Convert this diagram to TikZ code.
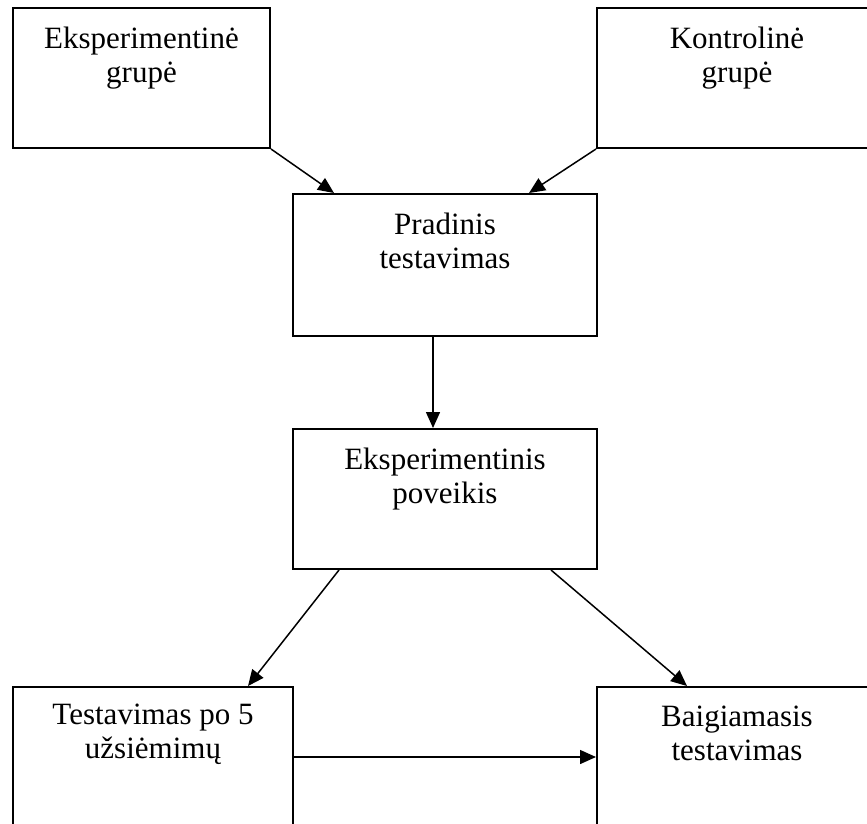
\documentclass[tikz,border=0pt]{standalone}
\usepackage{fontspec}
\setmainfont{Liberation Serif}
\usetikzlibrary{arrows.meta}
\tikzset{
  box/.style={draw, line width=2pt, inner sep=0pt},
  lbl/.style={anchor=north, inner sep=0pt, align=center, font=\fontsize{31}{34}\selectfont},
  arr/.style={line width=1.5pt, -{Triangle[length=16pt,width=14pt]}}
}
\begin{document}
\begin{tikzpicture}[x=1pt, y=-1pt]
\clip (0,0) rectangle (867,824);
\fill[white] (0,0) rectangle (867,824);
\node[box, minimum width=257pt, minimum height=140pt,
  label={[lbl, yshift=-20pt]north:Eksperimentinė\\grupė}] (b1) at (141.5,78) {};
\node[box, minimum width=280pt, minimum height=140pt,
  label={[lbl, yshift=-20pt]north:Kontrolinė\\grupė}] (b2) at (737,78) {};
\node[box, minimum width=304pt, minimum height=142pt,
  label={[lbl, yshift=-20pt]north:Pradinis\\testavimas}] (b3) at (445,265) {};
\node[box, minimum width=304pt, minimum height=140pt,
  label={[lbl, yshift=-20pt]north:Eksperimentinis\\poveikis}] (b4) at (445,499) {};
\node[box, minimum width=280pt, minimum height=140pt,
  label={[lbl, yshift=-18pt]north:Testavimas po 5\\užsiėmimų}] (b5) at (153,757) {};
\node[box, minimum width=280pt, minimum height=140pt,
  label={[lbl, yshift=-20pt]north:Baigiamasis\\testavimas}] (b6) at (737,757) {};
\draw[arr] (b1.south east) -- ([xshift=42pt]b3.north west);
\draw[arr] (b2.south west) -- ([xshift=-69pt]b3.north east);
\draw[arr] ([xshift=-12pt]b3.south) -- ([xshift=-12pt]b4.north);
\draw[arr] ([xshift=47pt]b4.south west) -- ([xshift=-46pt]b5.north east);
\draw[arr] ([xshift=-47pt]b4.south east) -- ([xshift=91pt]b6.north west);
\draw[arr] (b5.east) -- (b6.west);
\end{tikzpicture}
\end{document}
